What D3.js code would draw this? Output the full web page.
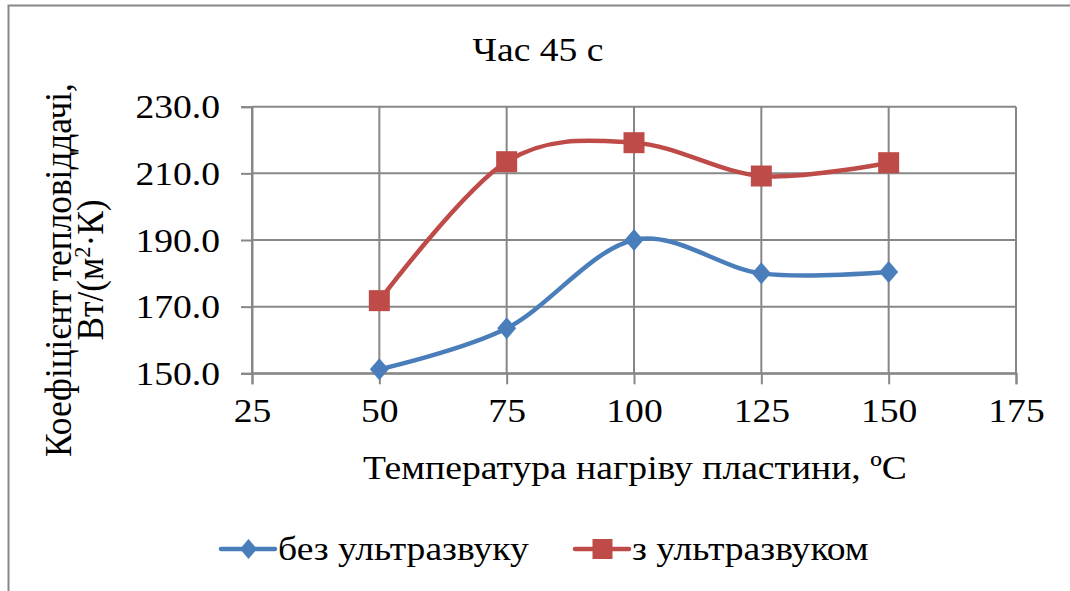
<!DOCTYPE html>
<html>
<head>
<meta charset="utf-8">
<script src="https://cdn.jsdelivr.net/npm/d3@7"></script>
</head>
<body style="margin:0; background:#fff">
<div id="chart"></div>
<script>
// дані графіка
var temps = [50, 75, 100, 125, 150];
var withoutUS = [151.2, 163.5, 190.0, 180.0, 180.4];
var withUS = [171.8, 213.5, 219.2, 209.2, 213.2];
var xTicks = [25, 50, 75, 100, 125, 150, 175];
var yTicks = [150, 170, 190, 210, 230];
var seriesNames = ['без ультразвуку', 'з ультразвуком'];

var W = 1070, H = 591;
var font = "'Liberation Serif', 'Times New Roman', serif";
var fs = 33, sx = 1.14; // шрифт трохи розтягнутий по горизонталі
var gridColor = '#878787';
var blue = '#4a7ebb', red = '#be4b48';

var svg = d3.select('#chart').append('svg')
    .attr('width', W).attr('height', H);

// рамка області діаграми
svg.append('rect')
    .attr('x', 8.5).attr('y', 5.5)
    .attr('width', 1200).attr('height', 800)
    .attr('fill', 'none').attr('stroke', gridColor).attr('stroke-width', 2);

var x = d3.scaleLinear().domain([25, 175]).range([252, 1016]);
var y = d3.scaleLinear().domain([150, 230]).range([373.3, 106.7]);

function txt(sel) {
    return sel.style('font-family', font).style('font-size', fs + 'px').attr('fill', '#000');
}

// маркери: ромб і квадрат
function diamond(w, h) { return 'M0,' + (-h) + 'L' + w + ',0L0,' + h + 'L' + (-w) + ',0Z'; }
function square(s) { return 'M' + (-s) + ',' + (-s) + 'H' + s + 'V' + s + 'H' + (-s) + 'Z'; }

// сітка
svg.append('g').selectAll('line').data(yTicks).enter().append('line')
    .attr('x1', x(25)).attr('x2', x(175))
    .attr('y1', function (d) { return y(d); }).attr('y2', function (d) { return y(d); })
    .attr('stroke', gridColor).attr('stroke-width', 2);
svg.append('g').selectAll('line').data(xTicks).enter().append('line')
    .attr('x1', function (d) { return x(d); }).attr('x2', function (d) { return x(d); })
    .attr('y1', y(230)).attr('y2', y(150))
    .attr('stroke', gridColor).attr('stroke-width', 2);

// осі
var yAxis = svg.append('g')
    .attr('transform', 'translate(' + x(25) + ',0)')
    .call(d3.axisLeft(y).tickValues(yTicks).tickFormat(d3.format('.1f')).tickSize(11).tickPadding(19));
var xAxis = svg.append('g')
    .attr('transform', 'translate(0,' + y(150) + ')')
    .call(d3.axisBottom(x).tickValues(xTicks).tickSize(11).tickPadding(14));

[yAxis, xAxis].forEach(function (ax) {
    ax.select('.domain').attr('stroke', gridColor).attr('stroke-width', 2);
    ax.selectAll('.tick line').attr('stroke', gridColor).attr('stroke-width', 2);
    ax.selectAll('.tick text').call(txt)
        .attr('transform', 'scale(' + sx + ',1)');
});
yAxis.selectAll('.tick text').attr('x', -32 / sx).attr('dy', '0.34em');

// лінії серій
var line = d3.line()
    .x(function (d) { return x(d[0]); })
    .y(function (d) { return y(d[1]); })
    .curve(d3.curveCardinal.tension(0));

var series = [
    { name: seriesNames[0], values: withoutUS, color: blue, marker: diamond(9.5, 11) },
    { name: seriesNames[1], values: withUS, color: red, marker: square(10.5) }
];

series.forEach(function (s) {
    var pts = temps.map(function (t, i) { return [t, s.values[i]]; });
    svg.append('path')
        .datum(pts)
        .attr('d', line)
        .attr('fill', 'none')
        .attr('stroke', s.color)
        .attr('stroke-width', 4.5)
        .attr('stroke-linejoin', 'round');
    svg.append('g').selectAll('path').data(pts).enter().append('path')
        .attr('d', s.marker)
        .attr('transform', function (d) { return 'translate(' + x(d[0]) + ',' + y(d[1]) + ')'; })
        .attr('fill', s.color);
});

// заголовок
svg.append('text')
    .attr('transform', 'translate(538,61) scale(' + sx + ',1)')
    .attr('text-anchor', 'middle')
    .call(txt)
    .text('Час 45 с');

// підпис осі X
svg.append('text')
    .attr('transform', 'translate(635,479) scale(' + sx + ',1)')
    .attr('text-anchor', 'middle')
    .call(txt)
    .text('Температура нагріву пластини, ºC');

// підпис осі Y (два рядки)
var yTitle = svg.append('text')
    .attr('transform', 'translate(71,270) scale(' + sx + ',1.07) rotate(-90)')
    .attr('text-anchor', 'middle')
    .call(txt);
yTitle.append('tspan').attr('x', 0).attr('y', 0).text('Коефіцієнт тепловіддачі,');
var l2 = yTitle.append('tspan').attr('x', 0).attr('y', 32 / sx);
l2.append('tspan').text('Вт/(м');
l2.append('tspan').attr('dy', -11).style('font-size', '21px').text('2');
l2.append('tspan').attr('dy', 11).text('·К)');

// легенда
var legend = [
    { x0: 221, color: blue, marker: diamond(8.5, 10), name: seriesNames[0] },
    { x0: 575, color: red, marker: square(10), name: seriesNames[1] }
];
var ly = 549;
legend.forEach(function (l) {
    svg.append('line')
        .attr('x1', l.x0).attr('x2', l.x0 + 54)
        .attr('y1', ly).attr('y2', ly)
        .attr('stroke', l.color).attr('stroke-width', 4.5).attr('stroke-linecap', 'round');
    svg.append('path')
        .attr('d', l.marker)
        .attr('transform', 'translate(' + (l.x0 + 27.5) + ',' + ly + ')')
        .attr('fill', l.color);
    svg.append('text')
        .attr('transform', 'translate(' + (l.x0 + 57) + ',' + (ly + 11) + ') scale(' + sx + ',1)')
        .call(txt)
        .text(l.name);
});
</script>
</body>
</html>
